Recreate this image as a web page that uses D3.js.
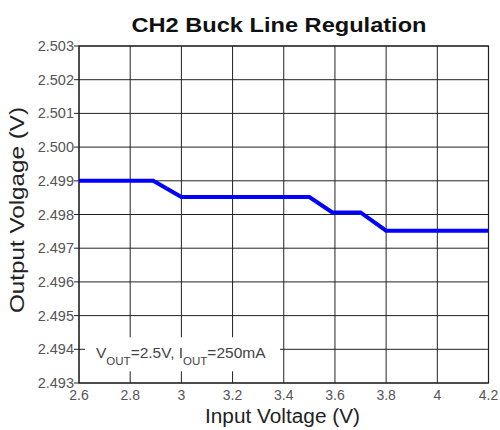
<!DOCTYPE html>
<html>
<head>
<meta charset="utf-8">
<script src="https://cdn.jsdelivr.net/npm/d3@7"></script>
<style>
  body { margin: 0; background: #fff; }
  text { font-family: "Liberation Sans", Arial, sans-serif; }
</style>
</head>
<body>
<svg id="chart" width="500" height="430"></svg>
<script>
// input voltage (V) vs output voltage (V)
var vin  = [2.6, 2.89, 3.0, 3.5, 3.59, 3.7, 3.8, 4.2];
var vout = [2.499, 2.499, 2.49852, 2.49852, 2.49806, 2.49806, 2.49752, 2.49752];
var xTicks = [2.6, 2.8, 3.0, 3.2, 3.4, 3.6, 3.8, 4.0, 4.2];
var yTicks = [2.493, 2.494, 2.495, 2.496, 2.497, 2.498, 2.499, 2.500, 2.501, 2.502, 2.503];

var svg = d3.select("#chart");
var margin = { left: 79, right: 11.5, top: 46, bottom: 47 };
var width = 500 - margin.left - margin.right;
var height = 430 - margin.top - margin.bottom;

var x = d3.scaleLinear().domain([2.6, 4.2]).range([0, width]);
var y = d3.scaleLinear().domain([2.493, 2.503]).range([height, 0]);

var g = svg.append("g").attr("transform", `translate(${margin.left},${margin.top})`);

// grid
g.selectAll(".vgrid").data(xTicks).enter().append("line")
  .attr("x1", d => x(d)).attr("x2", d => x(d))
  .attr("y1", 0).attr("y2", height)
  .attr("stroke", "#222").attr("stroke-width", 1);
g.selectAll(".hgrid").data(yTicks).enter().append("line")
  .attr("x1", -5).attr("x2", width)
  .attr("y1", d => y(d)).attr("y2", d => y(d))
  .attr("stroke", "#222").attr("stroke-width", 1);

// tick labels
g.selectAll(".ylab").data(yTicks).enter().append("text")
  .attr("x", -5).attr("y", d => y(d) + 5)
  .attr("text-anchor", "end")
  .attr("fill", "#555").style("font-size", "14.5px")
  .text(d => d3.format(".3f")(d));
g.selectAll(".xlab").data(xTicks).enter().append("text")
  .attr("x", d => x(d)).attr("y", height + 17)
  .attr("text-anchor", "middle")
  .attr("fill", "#555").style("font-size", "14px")
  .text(d => d3.format("")(+d.toFixed(1)));

// annotation box
var note = g.append("g");
note.append("rect")
  .attr("x", 6).attr("y", y(2.494) - 12)
  .attr("width", 195).attr("height", 34)
  .attr("fill", "#fff");
var t = note.append("text")
  .attr("x", 17).attr("y", y(2.494) + 9)
  .attr("fill", "#444").style("font-size", "15.5px");
t.append("tspan").text("V");
t.append("tspan").attr("dy", 7).style("font-size", "11.5px").text("OUT");
t.append("tspan").attr("dy", -7).text("=2.5V, I");
t.append("tspan").attr("dy", 7).style("font-size", "11.5px").text("OUT");
t.append("tspan").attr("dy", -7).text("=250mA");

// frame
g.append("rect")
  .attr("width", width).attr("height", height)
  .attr("fill", "none").attr("stroke", "#222").attr("stroke-width", 1.2);

// data line
var line = d3.line().x((d, i) => x(vin[i])).y(d => y(d));
g.append("path")
  .datum(vout)
  .attr("d", line)
  .attr("fill", "none")
  .attr("stroke", "#0000ff")
  .attr("stroke-width", 4);

// titles
svg.append("text")
  .attr("x", 279).attr("y", 31.5)
  .attr("text-anchor", "middle")
  .attr("textLength", 295).attr("lengthAdjust", "spacingAndGlyphs")
  .style("font-size", "21px").style("font-weight", "bold")
  .attr("fill", "#111")
  .text("CH2 Buck Line Regulation");
svg.append("text")
  .attr("x", 282.5).attr("y", 423)
  .attr("text-anchor", "middle")
  .attr("textLength", 155).attr("lengthAdjust", "spacingAndGlyphs")
  .style("font-size", "20px")
  .attr("fill", "#222")
  .text("Input Voltage (V)");
svg.append("text")
  .attr("transform", `translate(24,210) rotate(-90)`)
  .attr("text-anchor", "middle")
  .attr("textLength", 206).attr("lengthAdjust", "spacingAndGlyphs")
  .style("font-size", "20px")
  .attr("fill", "#222")
  .text("Output Volgage (V)");
</script>
</body>
</html>
